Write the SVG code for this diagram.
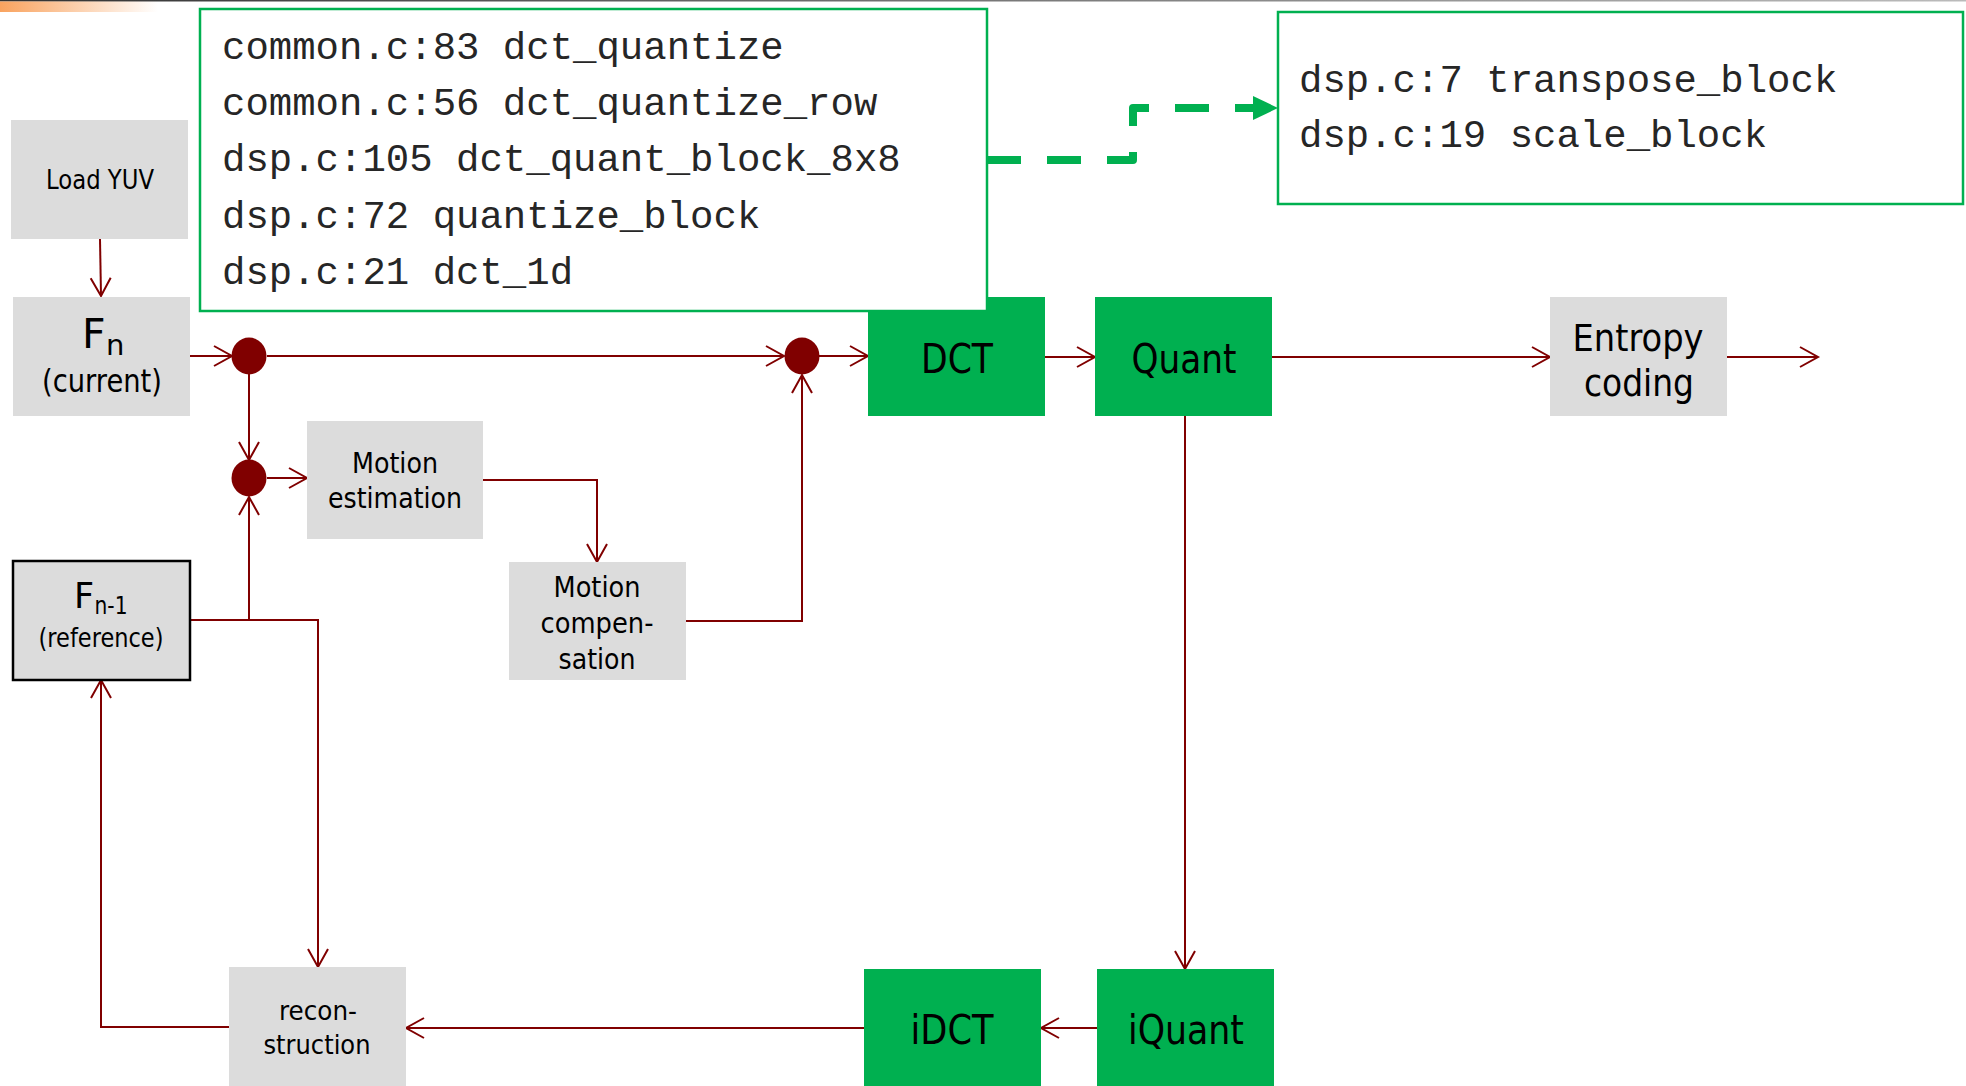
<svg xmlns="http://www.w3.org/2000/svg" width="1966" height="1086" viewBox="0 0 1966 1086">
  <style>
    .box { fill: #DCDCDC; }
    .gbox { fill: #00B050; }
    .code { fill: #FFFFFF; stroke: #00B050; stroke-width: 2.5; }
    .lbl { font-family: "DejaVu Sans", "Liberation Sans", sans-serif; fill: #000; text-anchor: middle; }
    .mono { font-family: "Liberation Mono", "DejaVu Sans Mono", monospace; font-size: 39px; fill: #262626; }
    .wire { fill: none; stroke: #800000; stroke-width: 2; marker-end: url(#arr); }
    .dot { fill: #800000; }
  </style>
  <defs>
    <marker id="arr" markerUnits="userSpaceOnUse" viewBox="0 0 24 24" markerWidth="24" markerHeight="24" refX="21" refY="12" orient="auto">
      <path d="M3,2 L21,12 L3,22" fill="none" stroke="#800000" stroke-width="2"/>
    </marker>
    <linearGradient id="topline" x1="0" y1="0" x2="1" y2="0">
      <stop offset="0" stop-color="#333333"/>
      <stop offset="1" stop-color="#BBBBBB"/>
    </linearGradient>
    <linearGradient id="orange" x1="0" y1="0" x2="1" y2="0">
      <stop offset="0" stop-color="#F9A35F"/>
      <stop offset="1" stop-color="#F9A35F" stop-opacity="0"/>
    </linearGradient>
  </defs>

  <rect x="0" y="0" width="1966" height="1086" fill="#FFFFFF"/>
  <rect x="0" y="0" width="1966" height="1.5" fill="url(#topline)"/>
  <rect x="0" y="1.5" width="158" height="10.5" fill="url(#orange)"/>

  <g id="connectors">
    <path class="wire" d="M100,239 L101,296"/>
    <path class="wire" d="M190,356 H232"/>
    <path class="wire" d="M267,356 H784"/>
    <path class="wire" d="M249,374 V460"/>
    <path class="wire" d="M190,620 H318 V967"/>
    <path class="wire" d="M249,620 V497"/>
    <path class="wire" d="M267,478 H307"/>
    <path class="wire" d="M483,480 H597 V562"/>
    <path class="wire" d="M686,621 H802 V375"/>
    <path class="wire" d="M819,356 H868"/>
    <path class="wire" d="M1045,357 H1095"/>
    <path class="wire" d="M1272,357 H1550"/>
    <path class="wire" d="M1727,357 H1818"/>
    <path class="wire" d="M1185,416 V969"/>
    <path class="wire" d="M1097,1028 H1041"/>
    <path class="wire" d="M864,1028 H406"/>
    <path class="wire" d="M229,1027 H101 V680"/>
    <path d="M987,160 H1133 V108 H1253" fill="none" stroke="#00B050" stroke-width="8" stroke-linejoin="round" stroke-dasharray="34 26"/>
    <path d="M1253,96 L1278,108 L1253,120 Z" fill="#00B050"/>
  </g>

  <g id="junction1"><ellipse class="dot" cx="249" cy="356" rx="17.5" ry="18.5"/></g>
  <g id="junction2"><ellipse class="dot" cx="249" cy="478" rx="17.5" ry="18.5"/></g>
  <g id="junction3"><ellipse class="dot" cx="802" cy="356" rx="17.5" ry="18.5"/></g>

  <g id="load-yuv">
    <rect class="box" x="11" y="120" width="177" height="119"/>
    <text class="lbl" x="100" y="189" font-size="26" textLength="108" lengthAdjust="spacingAndGlyphs">Load YUV</text>
  </g>

  <g id="fn-current">
    <rect class="box" x="13" y="297" width="177" height="119"/>
    <text class="lbl" font-size="41"><tspan x="82" y="348" style="text-anchor:start">F</tspan><tspan x="106" y="355" font-size="29" style="text-anchor:start">n</tspan></text>
    <text class="lbl" x="102" y="392" font-size="32" textLength="120" lengthAdjust="spacingAndGlyphs">(current)</text>
  </g>

  <g id="fn1-reference">
    <rect class="box" x="13" y="561" width="177" height="119" stroke="#000" stroke-width="2.5"/>
    <text class="lbl" font-size="35"><tspan x="84" y="608">F</tspan><tspan x="111" y="614" font-size="24" textLength="33" lengthAdjust="spacingAndGlyphs">n-1</tspan><tspan x="101" y="647" font-size="27" textLength="125" lengthAdjust="spacingAndGlyphs">(reference)</tspan></text>
  </g>

  <g id="motion-estimation">
    <rect class="box" x="307" y="421" width="176" height="118"/>
    <text class="lbl" font-size="28"><tspan x="395" y="473" textLength="86" lengthAdjust="spacingAndGlyphs">Motion</tspan><tspan x="395" y="508" textLength="134" lengthAdjust="spacingAndGlyphs">estimation</tspan></text>
  </g>

  <g id="motion-compensation">
    <rect class="box" x="509" y="562" width="177" height="118"/>
    <text class="lbl" font-size="28"><tspan x="597" y="597" textLength="87" lengthAdjust="spacingAndGlyphs">Motion</tspan><tspan x="597" y="633" textLength="113" lengthAdjust="spacingAndGlyphs">compen-</tspan><tspan x="597" y="669" textLength="77" lengthAdjust="spacingAndGlyphs">sation</tspan></text>
  </g>

  <g id="dct">
    <rect class="gbox" x="868" y="297" width="177" height="119"/>
    <text class="lbl" x="957" y="373" font-size="41" textLength="72" lengthAdjust="spacingAndGlyphs">DCT</text>
  </g>

  <g id="quant">
    <rect class="gbox" x="1095" y="297" width="177" height="119"/>
    <text class="lbl" x="1184" y="373" font-size="41" textLength="105" lengthAdjust="spacingAndGlyphs">Quant</text>
  </g>

  <g id="entropy-coding">
    <rect class="box" x="1550" y="297" width="177" height="119"/>
    <text class="lbl" font-size="38"><tspan x="1638" y="351" textLength="131" lengthAdjust="spacingAndGlyphs">Entropy</tspan><tspan x="1639" y="396" textLength="110" lengthAdjust="spacingAndGlyphs">coding</tspan></text>
  </g>

  <g id="reconstruction">
    <rect class="box" x="229" y="967" width="177" height="119"/>
    <text class="lbl" font-size="27"><tspan x="318" y="1020" textLength="78" lengthAdjust="spacingAndGlyphs">recon-</tspan><tspan x="317" y="1054" textLength="107" lengthAdjust="spacingAndGlyphs">struction</tspan></text>
  </g>

  <g id="idct">
    <rect class="gbox" x="864" y="969" width="177" height="117"/>
    <text class="lbl" x="952" y="1044" font-size="40" textLength="83" lengthAdjust="spacingAndGlyphs">iDCT</text>
  </g>

  <g id="iquant">
    <rect class="gbox" x="1097" y="969" width="177" height="117"/>
    <text class="lbl" x="1186" y="1044" font-size="40" textLength="116" lengthAdjust="spacingAndGlyphs">iQuant</text>
  </g>

  <g id="code-box-1">
    <rect class="code" x="200" y="9" width="787" height="302"/>
    <text class="mono" x="222" y="59">common.c:83 dct_quantize</text>
    <text class="mono" x="222" y="115">common.c:56 dct_quantize_row</text>
    <text class="mono" x="222" y="171">dsp.c:105 dct_quant_block_8x8</text>
    <text class="mono" x="222" y="228">dsp.c:72 quantize_block</text>
    <text class="mono" x="222" y="284">dsp.c:21 dct_1d</text>
  </g>

  <g id="code-box-2">
    <rect class="code" x="1278" y="12" width="685" height="192"/>
    <text class="mono" x="1299" y="92">dsp.c:7 transpose_block</text>
    <text class="mono" x="1299" y="147">dsp.c:19 scale_block</text>
  </g>
</svg>
